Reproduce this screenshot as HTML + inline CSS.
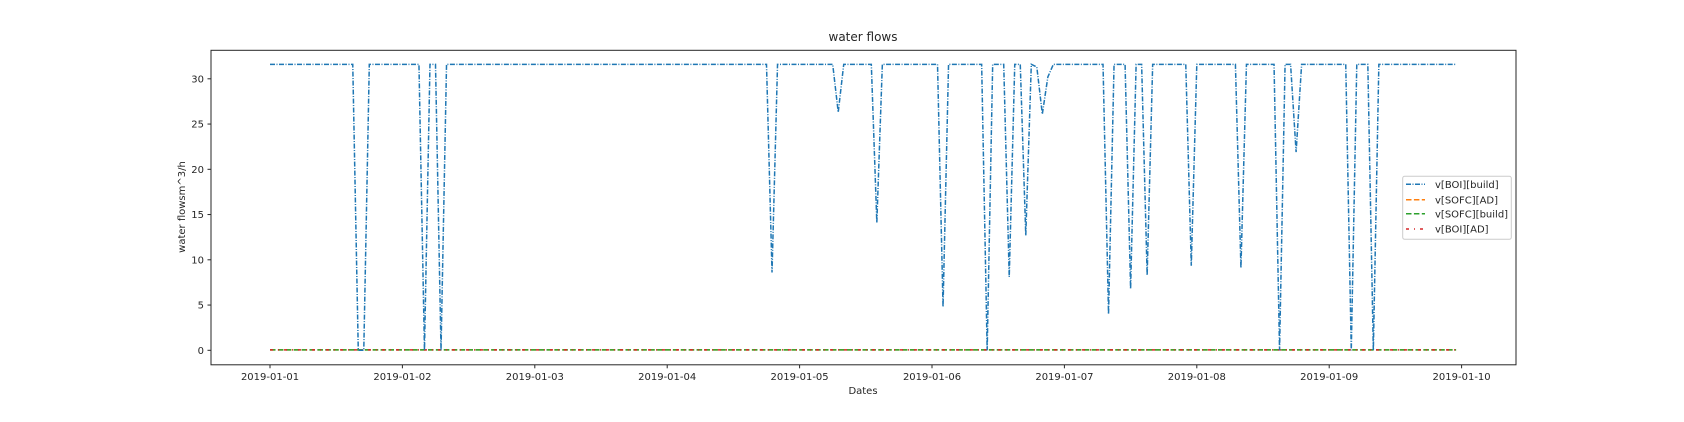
<!DOCTYPE html>
<html><head><meta charset="utf-8"><style>
body{margin:0;background:#fff;}
svg text{font-family:"DejaVu Sans","Liberation Sans",sans-serif;fill:#262626;}
</style></head><body>
<svg id="chart" width="1684" height="417" viewBox="0 0 1684 417" xmlns="http://www.w3.org/2000/svg">
<rect width="1684" height="417" fill="#fff"/>
<text x="863" y="41" font-size="12" text-anchor="middle">water flows</text>
<text x="863" y="394" font-size="10" text-anchor="middle">Dates</text>
<text transform="translate(185,207) rotate(-90)" font-size="10" text-anchor="middle">water flowsm^3/h</text>
<g id="ticks"></g>
<g id="series"></g>
<rect x="211" y="50.3" width="1305" height="314.5" fill="none" stroke="#262626" stroke-width="1"/>
<g>
<rect x="1402.7" y="176.3" width="108.6" height="63" rx="2" fill="#fff" fill-opacity="0.8" stroke="#ccc"/>
<g><line x1="1406" y1="184.3" x2="1425" y2="184.3" stroke="#1f77b4" stroke-width="1.5" stroke-dasharray="5,1.5,1,1.5"/><text x="1435" y="188" font-size="10">v[BOI][build]</text></g>
<g><line x1="1406" y1="199.7" x2="1425" y2="199.7" stroke="#ff7f0e" stroke-width="1.5" stroke-dasharray="5.5,2.4"/><text x="1435" y="203.4" font-size="10">v[SOFC][AD]</text></g>
<g><line x1="1406" y1="213.7" x2="1425" y2="213.7" stroke="#2ca02c" stroke-width="1.5" stroke-dasharray="5.5,2.4"/><text x="1435" y="217.4" font-size="10">v[SOFC][build]</text></g>
<g><line x1="1406" y1="229" x2="1425" y2="229" stroke="#d62728" stroke-width="1.5" stroke-dasharray="3,5,1,5"/><text x="1435" y="232.7" font-size="10">v[BOI][AD]</text></g>
</g>
</svg>
<script>
const tickLabels = ["2019-01-01","2019-01-02","2019-01-03","2019-01-04","2019-01-05","2019-01-06","2019-01-07","2019-01-08","2019-01-09","2019-01-10"];
const yTicks = [0,5,10,15,20,25,30];
const baseFlow = 31.6;
const dipHours = [16,17,28,31,91,103,110,122,130,134,137,139,140,141,152,156,159,167,176,183,186,196,200];
const dipValues = [0,0,0,0,8.6,26.3,14.1,4.8,0,8.1,12.7,31.3,26.1,30.2,4.0,6.8,8.3,9.35,9.1,0,21.9,0,0];
const nHours = 216;
const sofcAD = 0.05, sofcBuild = 0.05, boiAD = 0.05;

const NS="http://www.w3.org/2000/svg";
const xDay = d => 270 + d*132.4;
const xHour = h => xDay(h/24);
const yVal = v => 350.3 - v*9.05;
const ticks=document.getElementById('ticks'), series=document.getElementById('series');

tickLabels.forEach((lab,i)=>{
  const x=xDay(i);
  const l=document.createElementNS(NS,'line');
  
  
  l.setAttribute('x1',x);l.setAttribute('x2',x);l.setAttribute('y1',364.8);l.setAttribute('y2',368.3);l.setAttribute('stroke','#262626');
  ticks.appendChild(l);
  const t=document.createElementNS(NS,'text');
  
  
  t.setAttribute('x',x);t.setAttribute('y',380);t.setAttribute('font-size','10');t.setAttribute('text-anchor','middle');
  t.textContent=lab;ticks.appendChild(t);
});
yTicks.forEach(v=>{
  const y=yVal(v);
  const l=document.createElementNS(NS,'line');
  
  
  l.setAttribute('x1',207.5);l.setAttribute('x2',211);l.setAttribute('y1',y);l.setAttribute('y2',y);l.setAttribute('stroke','#262626');
  ticks.appendChild(l);
  const t=document.createElementNS(NS,'text');
  
  
  t.setAttribute('x',204);t.setAttribute('y',y+3.6);t.setAttribute('font-size','10');t.setAttribute('text-anchor','end');
  t.textContent=v;ticks.appendChild(t);
});

function addLine(vals,color,dash,name){
  const p=document.createElementNS(NS,'polyline');
  
  
  p.setAttribute('points',vals.map((v,h)=>xHour(h).toFixed(2)+','+yVal(v).toFixed(2)).join(' '));
  p.setAttribute('fill','none');p.setAttribute('stroke',color);p.setAttribute('stroke-width','1.5');p.setAttribute('stroke-dasharray',dash);
  series.appendChild(p);
}
const boiBuild=[];
for(let h=0;h<nHours;h++){const k=dipHours.indexOf(h);boiBuild.push(k>=0?dipValues[k]:baseFlow);}
addLine(new Array(nHours).fill(sofcAD),'#ff7f0e','5.5,2.4','line-sofc-ad');
addLine(new Array(nHours).fill(sofcBuild),'#2ca02c','5.5,2.4','line-sofc-build');
addLine(new Array(nHours).fill(boiAD),'#d62728','3,5,1,5','line-boi-ad');
addLine(boiBuild,'#1f77b4','5,1.5,1,1.5','line-boi-build');
</script>
</body></html>
